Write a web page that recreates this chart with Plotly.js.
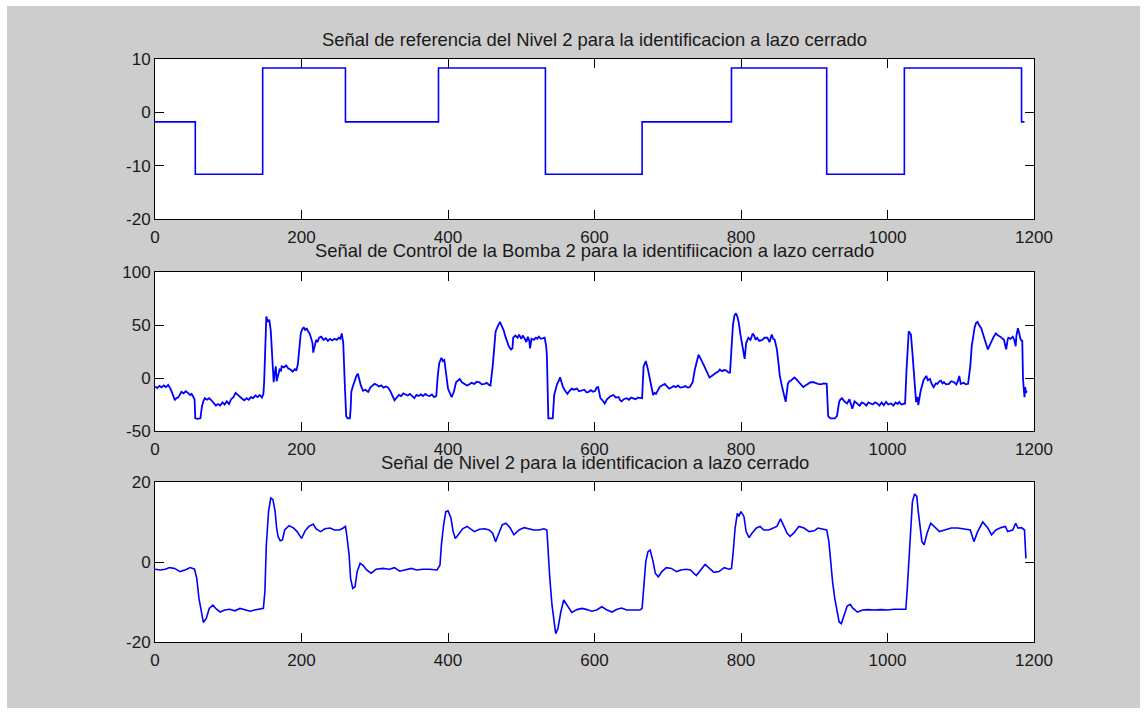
<!DOCTYPE html>
<html>
<head>
<meta charset="utf-8">
<script src="https://cdn.plot.ly/plotly-3.0.1.min.js"></script>
<style>
  html, body { margin: 0; padding: 0; background: #ffffff; }
  #chart { position: absolute; left: 7px; top: 6px; width: 1133px; height: 702px; }
</style>
</head>
<body>
<div id="chart"></div>
<script>
// ---- Data ----
// Panel 1: reference signal (step changes)
const refX = [0, 55, 147, 260, 387, 533, 665, 787, 917, 1023, 1183, 1187];
const refY = [-1.8, -11.6, 8.3, -1.8, 8.3, -11.6, -1.8, 8.3, -11.6, 8.3, -1.8, -1.8];

// Panel 2: pump control signal
const ctrlX = [0,3,6,9,12,15,18,21,24,27,29,31,33,36,39,42,45,48,50,52,54,55,58,62,64,66,68,71,74,77,80,83,86,89,92,95,98,101,104,107,110,113,116,119,122,125,128,131,134,137,140,143,146,148,149,150,152,154,156,158,160,162,163,165,166,167,169,170,172,173,176,179,182,185,188,191,193,195,197,199,201,203,205,207,209,211,213,215,216,218,220,222,224,227,230,233,236,239,242,245,248,251,253,255,257,259,261,263,266,267,268,270,273,275,277,279,281,284,287,291,294,297,300,303,306,309,312,315,318,321,323,325,327,330,333,336,339,342,345,348,351,354,357,360,363,366,369,372,375,378,381,384,386,388,391,393,395,398,400,403,405,408,411,414,416,419,423,426,429,432,436,439,443,446,450,453,456,458,461,463,465,468,471,474,476,478,480,483,486,488,489,492,495,497,500,502,504,507,509,511,512,514,517,520,522,524,527,530,532,534,535,537,540,543,545,547,549,551,553,555,557,560,563,566,569,572,576,579,583,586,589,592,595,598,601,603,605,608,611,614,617,619,622,626,629,633,635,637,640,644,647,650,653,656,659,662,665,667,670,673,676,678,680,682,684,687,689,692,696,699,702,705,708,711,714,717,721,724,727,730,734,737,739,742,745,748,750,752,755,757,760,763,766,769,771,774,777,780,783,785,787,789,791,793,795,797,799,801,803,805,807,810,813,816,818,820,822,825,829,832,836,839,842,844,846,849,851,853,856,858,861,864,866,868,871,873,876,879,882,885,888,891,895,899,902,905,909,913,917,919,922,925,928,931,934,936,938,941,945,948,950,952,955,959,962,965,968,971,974,977,980,983,986,989,992,995,998,1001,1005,1008,1011,1014,1016,1019,1022,1024,1026,1029,1031,1032,1034,1037,1039,1041,1042,1045,1047,1049,1051,1053,1055,1058,1060,1063,1066,1068,1071,1073,1075,1077,1080,1084,1087,1091,1094,1096,1098,1100,1104,1107,1110,1113,1115,1117,1119,1121,1123,1125,1128,1131,1133,1135,1137,1139,1142,1145,1148,1151,1154,1157,1159,1161,1162,1164,1165,1168,1171,1173,1175,1176,1178,1180,1181,1183,1184,1185,1186,1187,1188,1189,1190];
const ctrlY = [-8,-9.5,-7.5,-8.8,-7,-8.5,-6.5,-10,-15,-21,-19,-18.5,-17,-13,-14.5,-12.5,-14,-16,-15,-17,-20,-38,-38.5,-38,-27,-22,-19,-20.5,-19,-21,-24,-26,-24.5,-26,-23,-25,-22,-24.5,-20,-18,-14,-16,-18,-19.5,-21,-19,-20.5,-18,-19,-16.5,-18,-16,-18.5,-15,-4,27,58,53,55,45,21,-4,3,11,-3,-1,5,8,7,11,10,12,9,8,6,8.5,7,13,30,42,46,48,45,47,44,42,38,33,24,30,36,34,38,39,36,37.5,35,37,35.5,37,36,38,37,42,33,-4,-36,-38,-38,-30,-13,-8,-1,2,4,-3,-7,-12,-11,-13,-9,-7,-5.5,-6.5,-8,-7,-9,-8,-9,-12,-16,-18,-21,-18,-16,-17,-14.5,-15.5,-16.5,-15,-17,-19,-16,-17,-15.5,-17,-15,-16.5,-17,-15.5,-18,-17,2,14,19,16,17,2,-10,-15,-18,-13,-4,-2,-1,-4,-5.5,-7,-6,-4.5,-5.5,-3.5,-4,-6,-5.5,-4.5,-6.5,-7,11,30,44,49,53,48,45,40,35,30,27,28,38,40,38,41,37,40,38,34,39,35,28,37,36,38,37,39,37,38,38,30,21,-38,-38,-38,-16,-10,-5.5,-3,0.6,-4,-8.6,-12,-15,-12,-10,-11,-10,-12.5,-12,-11,-13.5,-13,-11.5,-13,-12,-9,-8.6,-19,-21,-24,-20,-19,-17,-16,-18.5,-18,-21,-22,-20,-19,-20.5,-18.5,-19,-20,-18.5,-19,-19,11,16,8,-4,-10,-16,-14,-15,-11,-8.6,-7,-5.5,-8,-10,-9,-7.5,-8.6,-7,-9,-8.6,-7.5,-9,-8.6,-4,8,14.5,22,18,14.5,11,8,4,0.6,2,3.7,5,6,8,6.5,7.5,7,5,5,30,50,59,61,58,52,42,33,24,18,33,38,36,42,40,36,38,35,36,38,38,34,41,37,36,27,15,2,-8,-13,-22.5,-5.5,-3,-2.5,-0.5,0.6,-1.5,-4,-6,-8.6,-7,-5.5,-4,-4,-5,-5.5,-6,-5,-5.5,-36,-38,-38,-38,-36,-22.5,-20,-19,-22,-24,-20,-25,-29,-22,-24,-26,-23,-24,-26,-23,-24,-25,-23,-24,-26,-23,-25.6,-22.5,-25,-24,-26,-23,-24.5,-22.5,-25,-24,-24,8,44,42,41,24,-7,-22.5,-18,-25.6,-13,-6,-2.5,0,2,-2,-1,-5,-8.6,-5,-5.5,-3,-2.5,-5,-4,-6,-5.5,-3,-4,-6,-3,2,-5.5,-4.5,-6,-5.5,11,30,42,48,52,53,50,47,40,35,30,27,30,35,39,42,40,39,37,36,30,27,36,38,37,39,36,30,40,47,42,38,35,35,-1,-10,-18,-8.6,-14,-12];

// Panel 3: measured level
const levelX = [0,7,14,20,27,34,41,48,54,57,60,64,66,70,74,79,84,89,95,102,109,116,123,130,136,143,148,150,152,155,158,161,164,166,168,171,174,177,183,189,194,200,205,210,216,220,226,232,239,245,252,257,260,262,265,267,270,273,276,280,284,289,295,302,311,320,327,334,343,350,357,366,375,385,389,391,394,397,400,404,407,410,414,420,426,432,436,443,450,456,461,465,470,474,479,485,490,497,504,511,517,524,531,535,536,539,542,545,547,550,554,558,563,569,576,583,590,596,603,610,617,624,630,637,644,653,662,665,667,670,673,676,680,683,687,692,698,705,712,718,725,731,739,745,751,757,763,770,777,784,787,789,792,795,797,800,804,807,811,815,821,826,831,838,845,849,854,858,863,867,872,879,886,893,900,905,911,917,920,922,925,928,931,934,937,941,945,949,953,959,966,973,982,991,1000,1009,1018,1025,1027,1030,1032,1034,1037,1040,1042,1045,1047,1050,1054,1059,1064,1071,1078,1087,1096,1105,1113,1118,1123,1130,1137,1142,1148,1155,1161,1164,1171,1175,1178,1183,1187,1188,1189];
const levelY = [-1.8,-2,-1.8,-1.4,-1.6,-2.4,-2,-1.4,-1.8,-4.1,-9.1,-13.3,-15.1,-14.1,-11.6,-10.8,-11.8,-12.5,-12,-11.8,-12.2,-11.6,-11.9,-12.3,-12,-11.8,-11.6,-7.4,4.3,12.6,16,15.6,12.6,8.5,6.4,5.3,5.5,8,9.1,8.5,7.6,5.9,7.8,8.9,9.5,8.3,7.6,8.3,8.5,8,8,8.5,8.9,6.4,1.8,-4.1,-6.6,-6.2,-2.4,-0.3,-0.8,-2,-2.8,-1.8,-1.6,-1.8,-1.4,-2.3,-1.8,-1.6,-2,-1.8,-1.8,-2,-0.8,4.3,9.3,12.6,12.8,11,7.6,5.9,6.8,8.3,8.9,8,7.6,8.2,8.3,8,7.2,5.1,7.6,9.3,9.7,8.5,6.8,8,8.6,8.3,8,8,8.3,8,4.3,-4.1,-10.8,-15.8,-17.9,-16.7,-12.5,-9.5,-10.8,-12.6,-11.9,-11.6,-11.9,-12.3,-12,-11.2,-12,-12.5,-11.9,-11.5,-12,-12,-12,-11.6,-5.8,0.1,2.6,3,0.1,-2.8,-3.7,-2.4,-1.4,-1.6,-2.4,-2,-1.8,-2,-3.4,-2,-0.6,-1.6,-2.6,-2.4,-1.4,-1.8,-1.6,1.8,8.5,12.2,11.4,12.6,11.4,7.6,6.1,7.2,8.5,8.9,8,8,8.6,8.9,10.8,9.3,7.2,6.4,7.2,8.9,8.5,7.6,7.8,8.5,8.3,8,5.1,0.1,-4.9,-9.1,-12.5,-15,-15.4,-13.3,-11,-10.6,-11.6,-12.5,-12,-11.9,-12,-11.9,-12,-11.8,-11.9,-11.8,-6.6,2.6,10.1,15.1,17,16.4,12.6,7.6,5.1,4.3,7.2,9.7,8.9,7.6,8,8.5,8.5,8.3,8,5.1,7.6,10,8.5,6.8,8,8.6,8.9,7.6,8,9.7,8.5,8.6,8,4.3,0.9];

// Tick values
const xTicks = [0, 200, 400, 600, 800, 1000, 1200];
const refTicks = [-20, -10, 0, 10];
const ctrlTicks = [-50, 0, 50, 100];
const levelTicks = [-20, 0, 20];

// Titles
const titles = [
  "Señal de referencia del Nivel 2 para la identificacion a lazo cerrado",
  "Señal de Control de la Bomba 2 para la identifiicacion a lazo cerrado",
  "Señal de Nivel 2 para la identificacion a lazo cerrado"
];

const lineStyle = {color: "rgb(0,0,255)", width: 1.6};
const traces = [
  {x: refX, y: refY, type: "scatter", mode: "lines", line: Object.assign({shape: "hv"}, lineStyle), xaxis: "x", yaxis: "y"},
  {x: ctrlX, y: ctrlY, type: "scatter", mode: "lines", line: {color: "rgb(0,0,255)", width: 1.8}, xaxis: "x2", yaxis: "y2"},
  {x: levelX, y: levelY, type: "scatter", mode: "lines", line: lineStyle, xaxis: "x3", yaxis: "y3"}
];

const fnt = {family: "'Liberation Sans', Arial, sans-serif", size: 17, color: "#1a1a1a"};
const titleFnt = {family: "'Liberation Sans', Arial, sans-serif", size: 18.4, color: "#1a1a1a"};
function xa(anchor) {
  return {range: [0, 1200], tickvals: xTicks, ticktext: xTicks.map(String), ticks: "inside", ticklen: 9,
    tickcolor: "#000", showline: true, linecolor: "#000", linewidth: 1, mirror: "ticks",
    showgrid: false, zeroline: false, tickfont: fnt, ticklabelstandoff: 3, anchor: anchor, domain: [0, 1], fixedrange: true};
}
function ya(anchor, range, ticks, dom) {
  return {range: range, tickvals: ticks, ticktext: ticks.map(String), ticks: "inside", ticklen: 9,
    tickcolor: "#000", showline: true, linecolor: "#000", linewidth: 1, mirror: "ticks",
    showgrid: false, zeroline: false, tickfont: fnt, anchor: anchor, domain: dom, fixedrange: true};
}

const layout = {
  width: 1133, height: 702,
  margin: {l: 148, r: 106, t: 53, b: 66, pad: 0},
  paper_bgcolor: "#cdcdcd",
  plot_bgcolor: "#ffffff",
  showlegend: false,
  font: fnt,
  xaxis: xa("y"), yaxis: ya("x", [-20, 10], refTicks, [0.7256, 1]),
  xaxis2: xa("y2"), yaxis2: ya("x2", [-50, 100], ctrlTicks, [0.3619, 0.6346]),
  xaxis3: xa("y3"), yaxis3: ya("x3", [-20, 20], levelTicks, [0, 0.2744]),
  annotations: [
    {text: titles[0], xref: "paper", yref: "paper", x: 0.5, y: 1.0343, xanchor: "center", yanchor: "middle", showarrow: false, font: titleFnt},
    {text: titles[1], xref: "paper", yref: "paper", x: 0.5, y: 0.6707, xanchor: "center", yanchor: "middle", showarrow: false, font: titleFnt},
    {text: titles[2], xref: "paper", yref: "paper", x: 0.5, y: 0.3087, xanchor: "center", yanchor: "middle", showarrow: false, font: titleFnt}
  ]
};

Plotly.newPlot("chart", traces, layout, {displayModeBar: false, staticPlot: true});
</script>
</body>
</html>
